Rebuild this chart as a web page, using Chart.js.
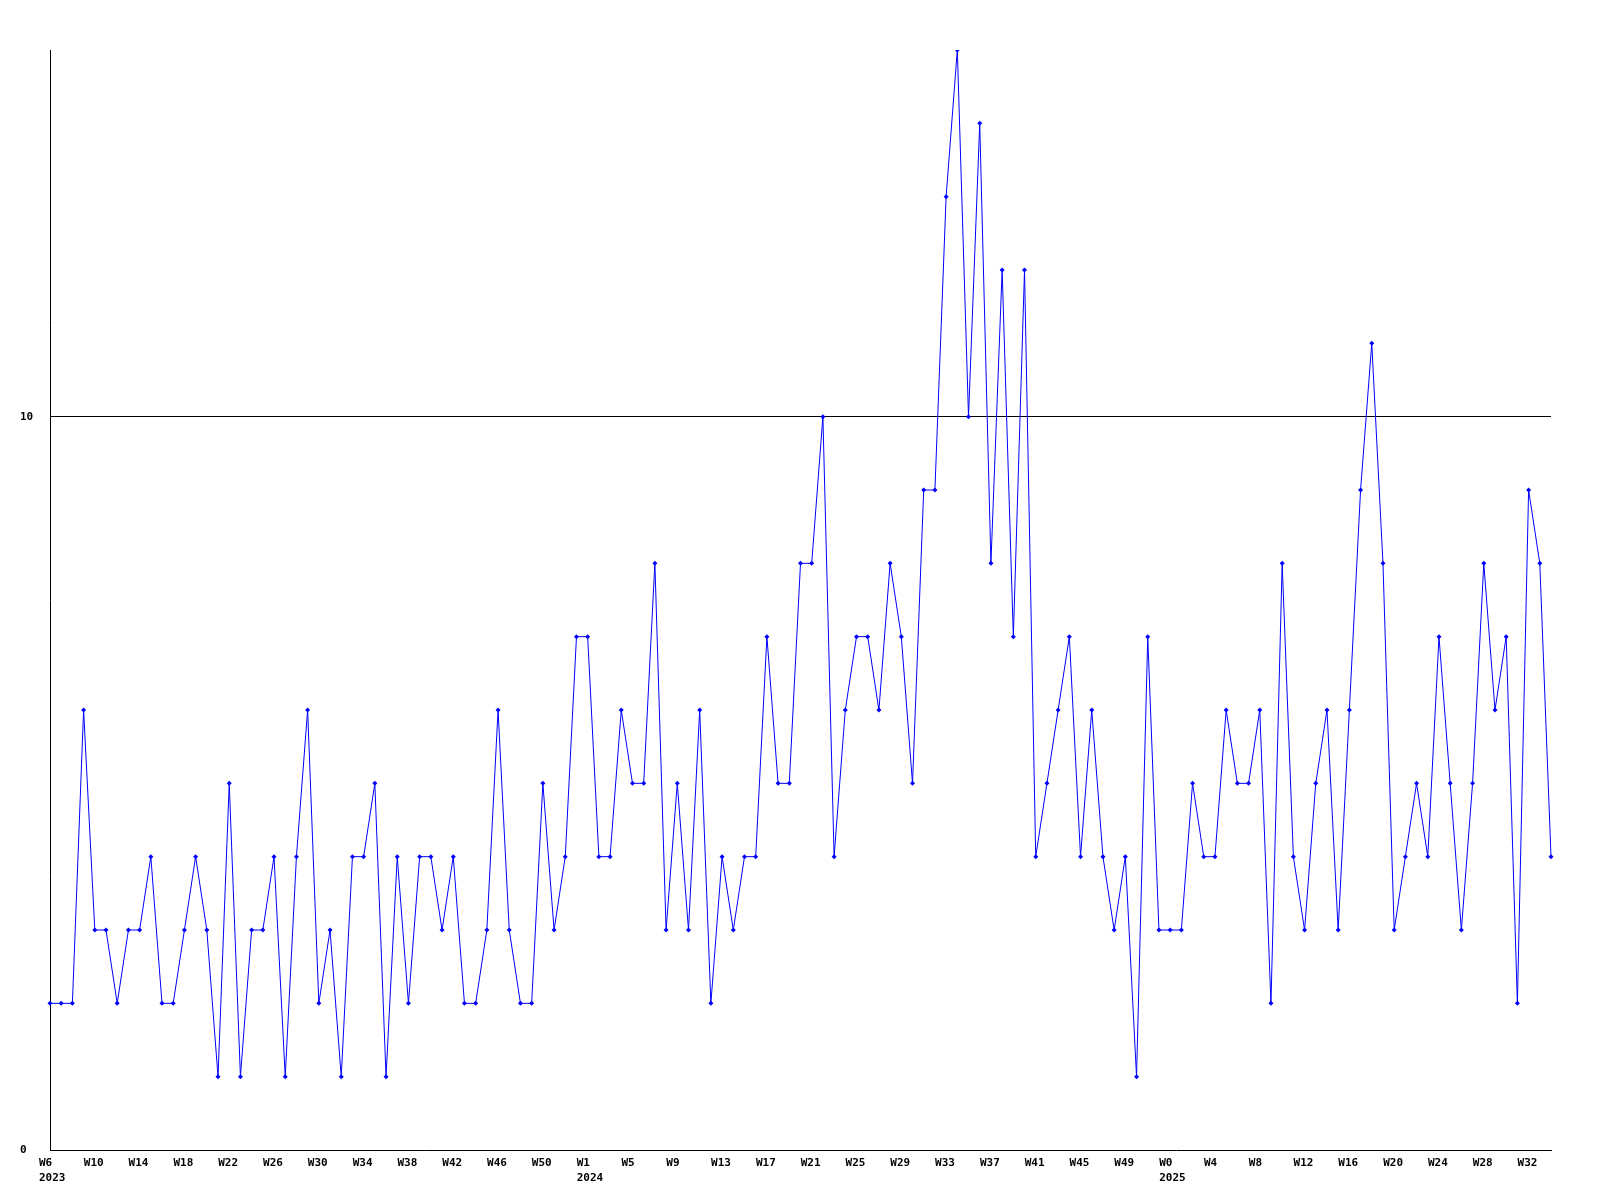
<!DOCTYPE html>
<html>
<head>
<meta charset="utf-8">
<title>Weekly count</title>
<script src="https://cdn.jsdelivr.net/npm/chart.js@4/dist/chart.umd.min.js"></script>
<style>
  body { margin: 0; background: #fff; }
</style>
</head>
<body>
<canvas id="weekChart" width="1600" height="1200"></canvas>
<script>
// weeks covered per year (first week, last week)
var years = [2023, 2024, 2025];
var weekRanges = [[6, 53], [1, 52], [0, 34]];

// one value per week
var counts = [
  2, 2, 2, 6, 3, 3, 2, 3, 3, 4,
  2, 2, 3, 4, 3, 1, 5, 1, 3, 3,
  4, 1, 4, 6, 2, 3, 1, 4, 4, 5,
  1, 4, 2, 4, 4, 3, 4, 2, 2, 3,
  6, 3, 2, 2, 5, 3, 4, 7, 7, 4,
  4, 6, 5, 5, 8, 3, 5, 3, 6, 2,
  4, 3, 4, 4, 7, 5, 5, 8, 8, 10,
  4, 6, 7, 7, 6, 8, 7, 5, 9, 9,
  13, 15, 10, 14, 8, 12, 7, 12, 4, 5,
  6, 7, 4, 6, 4, 3, 4, 1, 7, 3,
  3, 3, 5, 4, 4, 6, 5, 5, 6, 2,
  8, 4, 3, 5, 6, 3, 6, 9, 11, 8,
  3, 4, 5, 4, 7, 5, 3, 5, 8, 6,
  7, 2, 9, 8, 4
];

var yTicks = [0, 10];

// build the week labels and remember where each year starts
var weekLabels = [];
var yearStart = {};
years.forEach(function (y, i) {
  yearStart[weekLabels.length] = y;
  for (var w = weekRanges[i][0]; w <= weekRanges[i][1]; w++) {
    weekLabels.push('W' + w);
  }
});

var tickFont = { family: 'DejaVu Sans Mono', size: 11, weight: 'bold', lineHeight: 1.34 };

var ctx = document.getElementById('weekChart').getContext('2d');
var chart = new Chart(ctx, {
  type: 'line',
  data: {
    labels: weekLabels,
    datasets: [{
      data: counts,
      borderColor: '#0000ff',
      backgroundColor: '#0000ff',
      borderWidth: 1,
      tension: 0,
      fill: false,
      pointStyle: 'rectRot',
      pointRadius: 2.5,
      pointBorderWidth: 0,
      pointBackgroundColor: '#0000ff'
    }]
  },
  options: {
    responsive: false,
    animation: false,
    layout: {
      padding: { top: 50, right: 49, bottom: 0, left: 20 }
    },
    plugins: {
      legend: { display: false },
      tooltip: { enabled: false }
    },
    scales: {
      x: {
        type: 'category',
        offset: false,
        grid: { display: false },
        border: { display: true, color: '#000', width: 1 },
        afterFit: function (axis) { axis.height = 50; },
        ticks: {
          autoSkip: false,
          maxRotation: 0,
          minRotation: 0,
          align: 'start',
          labelOffset: -11,
          padding: -2,
          color: '#000',
          font: tickFont,
          callback: function (value, index) {
            if (index % 4 !== 0) return '';
            var label = this.getLabelForValue(value);
            if (yearStart[index] !== undefined) return [label, String(yearStart[index])];
            return label;
          }
        }
      },
      y: {
        min: 0,
        max: 15,
        afterBuildTicks: function (axis) {
          axis.ticks = yTicks.map(function (v) { return { value: v }; });
        },
        afterFit: function (axis) { axis.width = 30; },
        grid: {
          drawTicks: false,
          color: function (c) { return c.tick && c.tick.value === 10 ? '#000' : 'rgba(0,0,0,0)'; },
          lineWidth: 1
        },
        border: { display: true, color: '#000', width: 1 },
        ticks: {
          crossAlign: 'far',
          padding: 0,
          color: '#000',
          font: tickFont
        }
      }
    }
  }
});
</script>
</body>
</html>
